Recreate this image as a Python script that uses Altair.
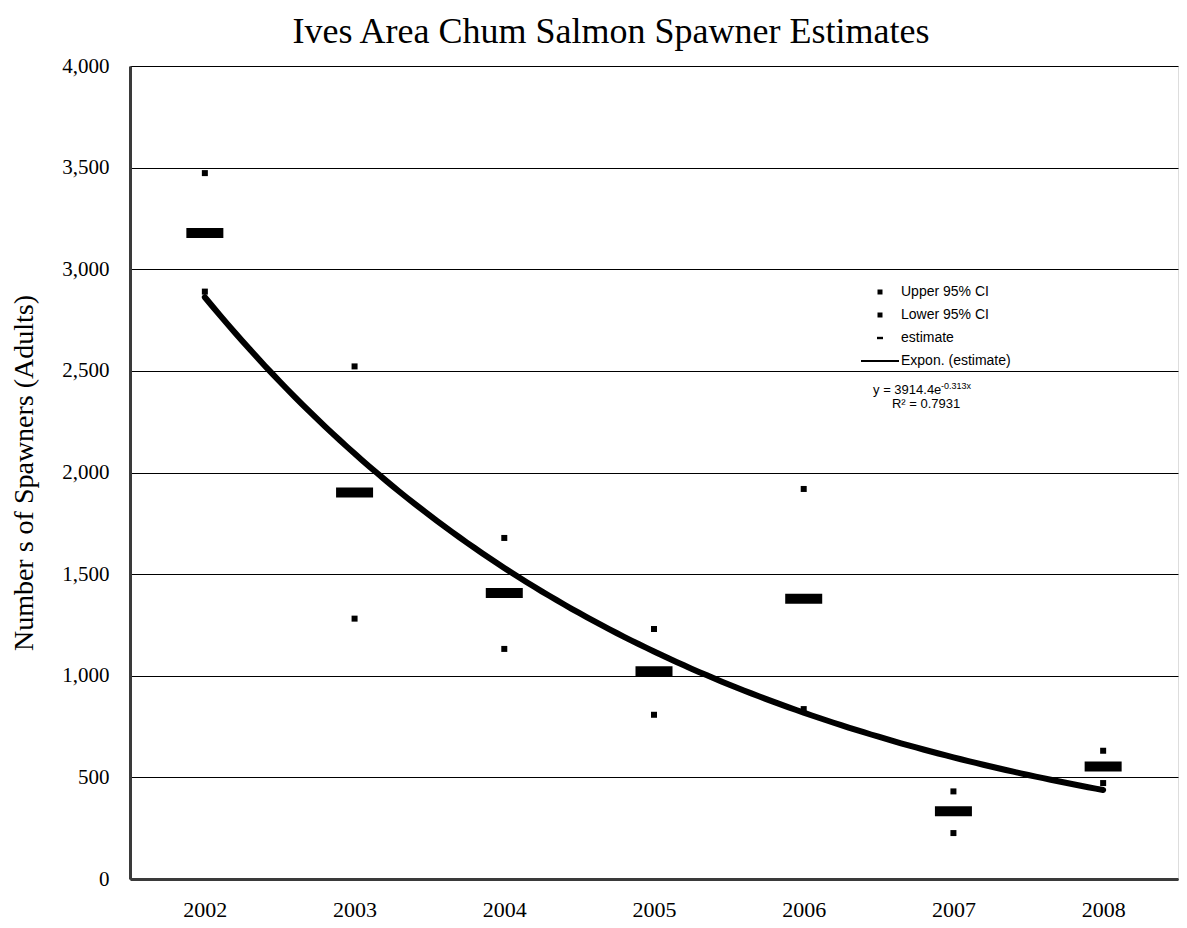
import altair as alt
import pandas as pd

# ---- data ----
years = [2002, 2003, 2004, 2005, 2006, 2007, 2008]
upper_ci = [3473, 2522, 1678, 1230, 1919, 431, 631]
estimate = [3178, 1902, 1407, 1022, 1379, 333, 554]
lower_ci = [2890, 1281, 1132, 808, 836, 226, 472]

# Excel exponential trendline as printed on the chart: y = A * e^(B*x), x = 1..7
TREND_A = 3914.4
TREND_B = -0.313
R2 = 0.7931

series_names = ["Upper 95% CI", "Lower 95% CI", "estimate", "Expon. (estimate)"]
y_ticks = [0, 500, 1000, 1500, 2000, 2500, 3000, 3500, 4000]

SERIF = "Liberation Serif"
SANS = "Liberation Sans"

ci_df = pd.DataFrame({
    "year": years * 2,
    "value": upper_ci + lower_ci,
    "series": ["Upper 95% CI"] * len(years) + ["Lower 95% CI"] * len(years),
})
est_df = pd.DataFrame({"year": years, "value": estimate, "series": "estimate"})

eq_main = pd.DataFrame({"year": [2006.463], "value": [2386], "text": [f"y = {TREND_A}e"]})
eq_sup = pd.DataFrame({"year": [2006.917], "value": [2412], "text": [f"{TREND_B}x"]})
eq_r2 = pd.DataFrame({"year": [2006.817], "value": [2317], "text": [f"R\u00b2 = {R2}"]})

x_scale = alt.Scale(domain=[2001.5, 2008.5], nice=False, zero=False)
y_scale = alt.Scale(domain=[0, 4000], nice=False)

x_axis = alt.Axis(values=years, format="d", grid=False, ticks=False, tickSize=0,
                  labelFont=SERIF, labelFontSize=22, labelColor="black", labelPadding=20,
                  domainColor="#3a3a3a", domainWidth=3, title=None)
y_axis = alt.Axis(values=y_ticks, format=",.0f", grid=True, gridColor="#000000", gridWidth=1,
                  ticks=False, tickSize=0, labelFont=SERIF, labelFontSize=21, labelColor="black",
                  labelPadding=21, domainColor="#3a3a3a", domainWidth=3,
                  title="Number s of Spawners (Adults)", titleFont=SERIF, titleFontSize=28,
                  titleFontWeight="normal", titleColor="black", titlePadding=23)

sq = "M-0.25,-0.25H0.25V0.25H-0.25Z"
dash = "M-0.3,-0.12H0.3V0.12H-0.3Z"
linebar = "M-1.9,-0.1H1.9V0.1H-1.9Z"

shape_scale = alt.Scale(domain=series_names, range=[sq, sq, dash, linebar])

ci = alt.Chart(ci_df).mark_point(filled=True, size=576, color="black", opacity=1).encode(
    x=alt.X("year:Q", scale=x_scale, axis=x_axis),
    y=alt.Y("value:Q", scale=y_scale, axis=y_axis),
    shape=alt.Shape("series:N", scale=shape_scale,
                    legend=alt.Legend(title=None, orient="none", legendX=739, legendY=215,
                                      symbolSize=400, symbolOpacity=1, symbolFillColor="black",
                                      labelFont=SANS, labelFontSize=14, labelColor="black",
                                      labelOffset=10, rowPadding=5, padding=0)),
)

est = alt.Chart(est_df).mark_tick(orient="horizontal", size=37, thickness=10,
                                  color="black", opacity=1).encode(
    x=alt.X("year:Q", scale=x_scale),
    y=alt.Y("value:Q", scale=y_scale),
)

trend = alt.Chart(alt.sequence(1, 7.001, 0.05, as_="t")).transform_calculate(
    year="2001 + datum.t",
    value=f"{TREND_A} * exp({TREND_B} * datum.t)",
).mark_line(color="black", strokeWidth=6, strokeCap="round").encode(
    x=alt.X("year:Q", scale=x_scale),
    y=alt.Y("value:Q", scale=y_scale),
)

def txt(df, size, align):
    return alt.Chart(df).mark_text(font=SANS, fontSize=size, color="black", align=align,
                                   baseline="alphabetic").encode(
        x=alt.X("year:Q", scale=x_scale),
        y=alt.Y("value:Q", scale=y_scale),
        text="text:N",
    )

chart = alt.layer(
    trend, est, ci,
    txt(eq_main, 13, "left"), txt(eq_sup, 9, "left"), txt(eq_r2, 13, "center"),
).properties(
    width=1048, height=813,
    autosize=alt.AutoSizeParams(type="none"),
    padding={"left": 122, "top": 58, "right": 1, "bottom": 41},
    title=alt.TitleParams("Ives Area Chum Salmon Spawner Estimates", font=SERIF, fontSize=36,
                          fontWeight="normal", color="black", anchor="middle", dx=-43, offset=4),
).configure_view(stroke="black", strokeWidth=2).configure(background="white")

chart.save("out.html", embed_options={"renderer": "svg", "actions": False})
